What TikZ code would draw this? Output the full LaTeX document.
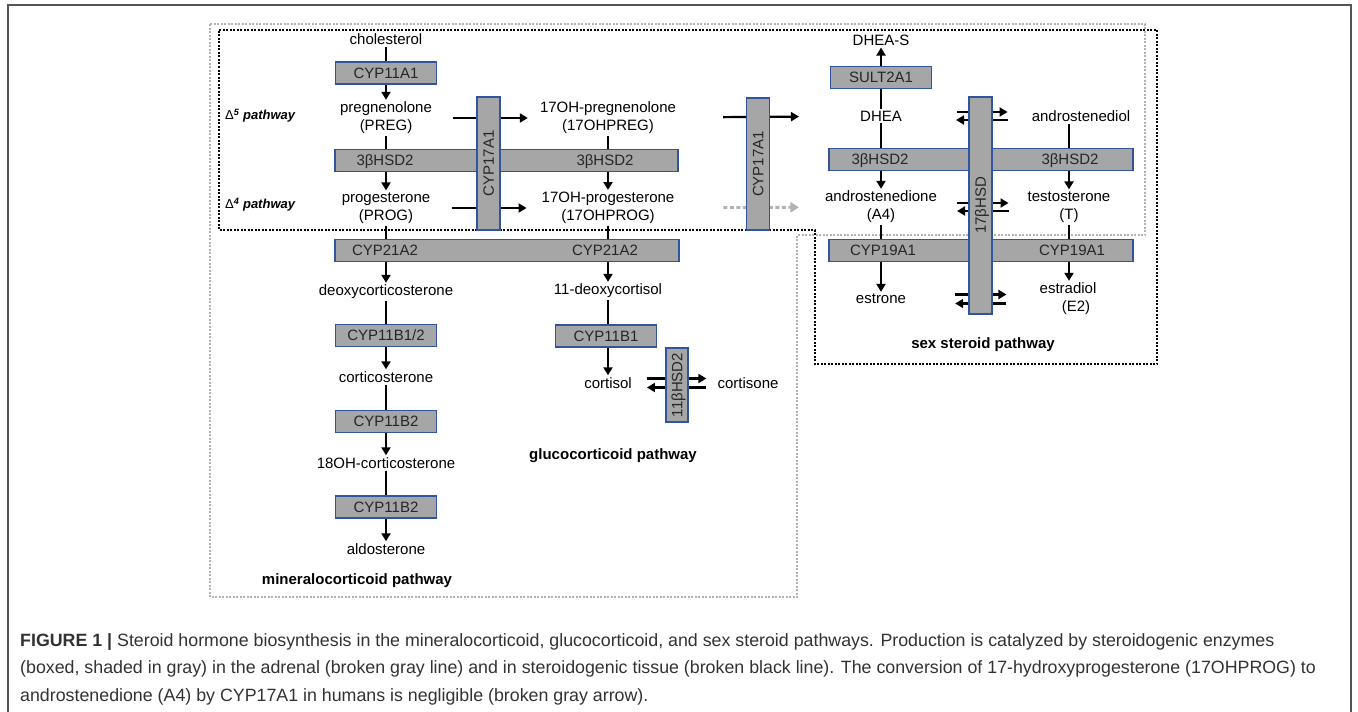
\documentclass[tikz,border=0pt]{standalone}
\usepackage{fontspec}
\setmainfont{Liberation Sans}
\usetikzlibrary{positioning, arrows.meta}
\usepackage{xcolor}
\definecolor{boxfill}{RGB}{166,166,166}
\definecolor{boxline}{RGB}{50,84,156}
\definecolor{adrenalgray}{RGB}{178,178,178}
\definecolor{framegray}{RGB}{85,85,85}
\definecolor{captext}{RGB}{50,50,50}

\begin{document}
\begin{tikzpicture}[x=1pt, y=-1pt, on grid, node distance=40pt and 100pt, font=\fontsize{15}{18}\selectfont]
    % Styles
    \tikzstyle{metab} = [align=center, inner sep=2pt, text=black]
    \tikzstyle{enzyme} = [rectangle, draw=boxline, fill=boxfill, line width=1.4pt, minimum width=101pt, minimum height=22pt, inner sep=0pt, text height=10.7pt, text depth=0pt, text=black!85]
    \tikzstyle{venzyme} = [enzyme, rotate=90, minimum height=23pt]
    \tikzstyle{enzlabel} = [inner sep=0pt, text height=10.7pt, text depth=0pt, text=black!85]
    \tikzstyle{arrow} = [line width=2.2pt, -{Triangle[length=8pt, width=9pt]}]
    \tikzstyle{weakarrow} = [line width=2.8pt, draw=adrenalgray, dash pattern=on 4pt off 2.5pt, -{Triangle[length=8.5pt, width=10pt]}]
    \tikzstyle{pathway} = [font=\fontsize{15}{18}\selectfont\bfseries, text=black]
    \tikzstyle{delta} = [anchor=west, inner sep=0pt, font=\fontsize{13}{15}\selectfont]
    \tikzstyle{tissue} = [line width=2.2pt, dash pattern=on 2pt off 1.5pt]
    \tikzstyle{adrenal} = [line width=2.4pt, draw=adrenalgray, dash pattern=on 2pt off 1.5pt]
    \tikzstyle{caption} = [anchor=west, inner sep=0pt, text=captext, font=\fontsize{17.8}{20}\selectfont]

    \useasboundingbox (0,0) rectangle (1358,712);
    \draw[framegray, line width=1.6pt] (8,712) -- (8,5) -- (1351,5) -- (1351,712);

    % Frames
    \draw[adrenal] (210,24) -- (1145,24) -- (1145,235) -- (797,235) -- (797,597) -- (210,597) -- cycle;
    \draw[tissue] (219,30) -- (1157,30) -- (1157,364) -- (815,364) -- (815,230) -- (219,230) -- cycle;

    % Nodes
    \node (chol) [metab] at (386,39) {cholesterol};
    \node (preg) [metab, below=79pt of chol] {pregnenolone\\(PREG)};
    \node (prog) [metab, below=90pt of preg] {progesterone\\(PROG)};
    \node (ohpreg) [metab, right=222pt of preg] {17OH-pregnenolone\\(17OHPREG)};
    \node (ohprog) [metab, right=222pt of prog] {17OH-progesterone\\(17OHPROG)};
    \node (doc) [metab, below=84pt of prog] {deoxycorticosterone};
    \node (cortico) [metab, below=85pt of doc] {corticosterone};
    \node (ohcort) [metab, below=86pt of cortico] {18OH-corticosterone};
    \node (aldo) [metab, below=86pt of ohcort] {aldosterone};
    \node (deoxycort) [metab, below=83pt of ohprog] {11-deoxycortisol};
    \node (cortisol) [metab, below=92pt of deoxycort] {cortisol};
    \node (cortisone) [metab, right=140pt of cortisol] {cortisone};
    \node (dhea) [metab] at (881,116) {DHEA};
    \node (dheas) [metab, above=76pt of dhea] {DHEA-S};
    \node (adiol) [metab, right=200pt of dhea] {androstenediol};
    \node (adione) [metab, below=91pt of dhea] {androstenedione\\(A4)};
    \node (testo) [metab, right=188pt of adione] {testosterone\\(T)};
    \node (estrone) [metab, below=92pt of adione] {estrone};
    \node (estradiol) [metab, right=187pt of estrone] {estradiol\\\hspace*{16pt}(E2)};

    \node (d5) [delta] at (225,116) {Δ\textsuperscript{\textbf{\textit{5}}} \textbf{\textit{pathway}}};
    \node (d4) [delta] at (225,205) {Δ\textsuperscript{\textbf{\textit{4}}} \textbf{\textit{pathway}}};
    \node (mineral) [pathway] at (357,581) {mineralocorticoid pathway};
    \node (gluco) [pathway] at (613,456) {glucocorticoid pathway};
    \node (sexst) [pathway] at (983,345) {sex steroid pathway};

    % Paths
    \draw [arrow] (chol) -- (preg);
    \draw [arrow] (preg) -- (prog);
    \draw [arrow] (ohpreg) -- (ohprog);
    \draw [arrow, shorten <=19pt, shorten >=10pt] (preg) -- (ohpreg);
    \draw [arrow, shorten <=20pt, shorten >=13pt] (prog) -- (ohprog);
    \draw [arrow, shorten <=45pt, shorten >=59pt] (ohpreg) -- (dhea);
    \draw [weakarrow, shorten <=47pt, shorten >=24pt] (ohprog) -- (adione);
    \draw [arrow] (prog) -- (doc);
    \draw [arrow] (doc) -- (cortico);
    \draw [arrow] (cortico) -- (ohcort);
    \draw [arrow] (ohcort) -- (aldo);
    \draw [arrow] (ohprog) -- (deoxycort);
    \draw [arrow] (deoxycort) -- (cortisol);
    \draw [arrow] (dhea) -- (dheas);
    \draw [arrow] (dhea) -- (adione);
    \draw [arrow] (adiol.south -| testo) -- (testo);
    \draw [arrow] (adione) -- (estrone);
    \draw [arrow] (testo) -- (testo |- estradiol.north);
    % reversible steps
    \draw [arrow, shorten <=53pt, shorten >=22pt] ([yshift=4pt]dhea.east) -- ([yshift=4pt]adiol.west);
    \draw [arrow, shorten <=22pt, shorten >=52pt] ([yshift=-4pt]adiol.west) -- ([yshift=-4pt]dhea.east);
    \draw [arrow, shorten <=18pt, shorten >=17pt] ([yshift=4pt]adione.east) -- ([yshift=4pt]testo.west);
    \draw [arrow, shorten <=17pt, shorten >=18pt] ([yshift=-4pt]testo.west) -- ([yshift=-4pt]adione.east);
    \draw [arrow, shorten <=47pt, shorten >=31pt] ([yshift=4.5pt]estrone.east) -- ([yshift=4.5pt]estradiol.west);
    \draw [arrow, shorten <=31pt, shorten >=47pt] ([yshift=-4.5pt]estradiol.west) -- ([yshift=-4.5pt]estrone.east);
    \draw [arrow, shorten <=13pt, shorten >=9pt] ([yshift=4.5pt]cortisol.east) -- ([yshift=4.5pt]cortisone.west);
    \draw [arrow, shorten <=9pt, shorten >=13pt] ([yshift=-4.5pt]cortisone.west) -- ([yshift=-4.5pt]cortisol.east);

    % Enzymes
    \node (cyp11a1) [enzyme, below=34pt of chol] {CYP11A1};
    \node (hsd3a) [enzyme, minimum width=343pt] at (506.5,160.5) {};
    \node (cyp21) [enzyme, minimum width=344pt] at (507,250.5) {};
    \node (cyp11b12) [enzyme, below=43.5pt of doc] {CYP11B1/2};
    \node (cyp11b2a) [enzyme, below=44.5pt of cortico] {CYP11B2};
    \node (cyp11b2b) [enzyme, below=44pt of ohcort] {CYP11B2};
    \node (cyp11b1) [enzyme, below=45pt of deoxycort, xshift=-2pt] {CYP11B1};
    \node (sult) [enzyme, above=38.5pt of dhea] {SULT2A1};
    \node (hsd3b) [enzyme, minimum width=304pt] at (981,159.5) {};
    \node (cyp19) [enzyme, minimum width=304pt] at (981,250.5) {};
    \node (cyp17a) [venzyme, minimum width=133pt] at (488.5,163.5) {CYP17A1};
    \node (cyp17b) [venzyme, minimum width=132pt] at (758,164) {CYP17A1};
    \node (hsd11) [venzyme, minimum width=74pt, minimum height=22pt] at (677,385) {11βHSD2};
    \node (hsd17) [venzyme, minimum width=217pt] at (980.5,205.5) {17βHSD};
    \node (hsd3al) [enzlabel] at (385,160.5) {3βHSD2};
    \node (hsd3ar) [enzlabel] at (605,160.5) {3βHSD2};
    \node (cyp21l) [enzlabel] at (385,250.5) {CYP21A2};
    \node (cyp21r) [enzlabel] at (605,250.5) {CYP21A2};
    \node (hsd3bl) [enzlabel] at (880,159.5) {3βHSD2};
    \node (hsd3br) [enzlabel] at (1070,159.5) {3βHSD2};
    \node (cyp19l) [enzlabel] at (883,250.5) {CYP19A1};
    \node (cyp19r) [enzlabel] at (1072,250.5) {CYP19A1};

    % Caption
    \node (cap1) [caption] at (20,642) {\textbf{FIGURE 1 |} Steroid hormone biosynthesis in the mineralocorticoid, glucocorticoid, and sex steroid pathways. Production is catalyzed by steroidogenic enzymes};
    \node (cap2) [caption] at (20,669) {(boxed, shaded in gray) in the adrenal (broken gray line) and in steroidogenic tissue (broken black line). The conversion of 17-hydroxyprogesterone (17OHPROG) to};
    \node (cap3) [caption] at (20,697) {androstenedione (A4) by CYP17A1 in humans is negligible (broken gray arrow).};
\end{tikzpicture}
\end{document}
